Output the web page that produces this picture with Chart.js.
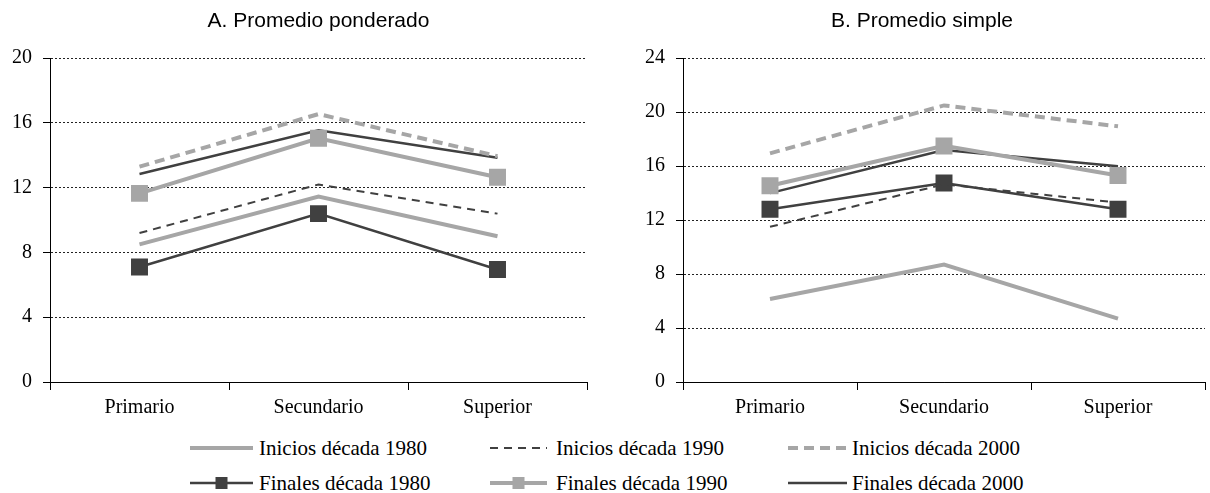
<!DOCTYPE html>
<html>
<head>
<meta charset="utf-8">
<script src="https://cdn.jsdelivr.net/npm/chart.js@4"></script>
<style>
html, body { margin: 0; padding: 0; background: #fff; overflow: hidden; width: 1210px; height: 493px; }
#panelA { position: absolute; left: 0; top: 0; width: 605px; height: 422px; }
#panelB { position: absolute; left: 605px; top: 0; width: 612px; height: 422px; }
.leg { position: absolute; font: 21px "Liberation Serif", serif; color: #000; white-space: nowrap; line-height: 24px; }
.legSample { position: absolute; }
</style>
</head>
<body>
<div id="panelA"><canvas id="chartA"></canvas></div>
<div id="panelB"><canvas id="chartB"></canvas></div>
<div id="legend"></div>
<script>
var categories = ['Primario', 'Secundario', 'Superior'];
var seriesNames = ['Inicios década 1980', 'Inicios década 1990', 'Inicios década 2000',
                   'Finales década 1980', 'Finales década 1990', 'Finales década 2000'];

// A. Promedio ponderado
var ponderadoIni1980 = [8.5, 11.45, 9.0];
var ponderadoIni1990 = [9.2, 12.2, 10.4];
var ponderadoIni2000 = [13.3, 16.55, 13.95];
var ponderadoFin1980 = [7.1, 10.4, 6.95];
var ponderadoFin1990 = [11.65, 15.05, 12.65];
var ponderadoFin2000 = [12.85, 15.55, 13.85];

// B. Promedio simple
var simpleIni1980 = [6.15, 8.7, 4.7];
var simpleIni1990 = [11.5, 14.65, 13.3];
var simpleIni2000 = [16.95, 20.5, 18.95];
var simpleFin1980 = [12.8, 14.75, 12.8];
var simpleFin1990 = [14.55, 17.5, 15.3];
var simpleFin2000 = [14.0, 17.2, 16.0];

var yTicksA = [0, 4, 8, 12, 16, 20];
var yTicksB = [0, 4, 8, 12, 16, 20, 24];

// estilos de cada serie
var DARK = '#404040';
var LIGHT = '#a6a6a6';
var seriesColors = [LIGHT, DARK, LIGHT, DARK, LIGHT, DARK];
var seriesWidths = [4, 2, 4, 2.5, 4, 2.5];
var seriesDash = [[], [8, 6], [10, 6], [], [], []];
var seriesMarker = [false, false, false, true, true, false];

function BuildPanel(elementId, titleText, values, yTicks, padLeft, yWidth, padRight, titleFull) {
    var ctx = document.getElementById(elementId);
    var datasets = [];
    for (var i = 0; i < values.length; i++) {
        datasets.push({
            label: seriesNames[i],
            data: values[i],
            borderColor: seriesColors[i],
            backgroundColor: seriesColors[i],
            borderWidth: seriesWidths[i],
            borderDash: seriesDash[i],
            borderCapStyle: 'butt',
            tension: 0,
            pointStyle: 'rect',
            pointRadius: seriesMarker[i] ? 12 : 0,
            pointHoverRadius: seriesMarker[i] ? 12 : 0,
            pointBorderWidth: 0,
            pointBackgroundColor: seriesColors[i]
        });
    }
    return new Chart(ctx, {
        type: 'line',
        data: { labels: categories, datasets: datasets },
        options: {
            responsive: true,
            maintainAspectRatio: false,
            animation: false,
            layout: { padding: { left: padLeft, right: padRight, top: 0, bottom: 0 } },
            plugins: {
                legend: { display: false },
                tooltip: { enabled: false },
                title: {
                    display: true,
                    fullSize: titleFull,
                    text: titleText,
                    color: '#000',
                    font: { family: 'Liberation Sans', size: 21, weight: 'normal' },
                    padding: { top: 9, bottom: 24 }
                }
            },
            scales: {
                x: {
                    offset: true,
                    grid: { drawOnChartArea: false, offset: true, tickLength: 8, color: '#000' },
                    border: { color: '#000', width: 1 },
                    ticks: { color: '#000', padding: 6, maxRotation: 0, font: { family: 'Liberation Serif', size: 20 } },
                    afterFit: function (s) { s.height = 40; }
                },
                y: {
                    min: yTicks[0],
                    max: yTicks[yTicks.length - 1],
                    afterBuildTicks: function (s) { s.ticks = yTicks.map(function (v) { return { value: v }; }); },
                    grid: { color: '#222', lineWidth: 1, tickLength: 7, tickColor: '#000' },
                    border: { color: '#000', width: 1, dash: [2, 2] },
                    ticks: { color: '#000', padding: 11, font: { family: 'Liberation Serif', size: 20 } },
                    afterFit: function (s) { s.width = yWidth; }
                }
            }
        }
    });
}

BuildPanel('chartA', 'A. Promedio ponderado',
    [ponderadoIni1980, ponderadoIni1990, ponderadoIni2000, ponderadoFin1980, ponderadoFin1990, ponderadoFin2000],
    yTicksA, 0, 50, 18, false);
BuildPanel('chartB', 'B. Promedio simple',
    [simpleIni1980, simpleIni1990, simpleIni2000, simpleFin1980, simpleFin1990, simpleFin2000],
    yTicksB, 22, 56, 0, true);

// leyenda común debajo de los dos paneles
var legendSampleX = [190, 490, 788];
var legendSampleW = [63, 57, 59];
var legendTextX = [259, 556, 852];
var legendRowY = [448, 483];
var legend = document.getElementById('legend');
var svgNS = 'http://www.w3.org/2000/svg';
for (var k = 0; k < seriesNames.length; k++) {
    var col = k % 3, row = Math.floor(k / 3);
    var cy = legendRowY[row];
    var w = legendSampleW[col];
    var svg = document.createElementNS(svgNS, 'svg');
    svg.setAttribute('width', w);
    svg.setAttribute('height', 16);
    svg.setAttribute('class', 'legSample');
    svg.style.left = legendSampleX[col] + 'px';
    svg.style.top = (cy - 8) + 'px';
    var ln = document.createElementNS(svgNS, 'line');
    ln.setAttribute('x1', 0); ln.setAttribute('x2', w);
    ln.setAttribute('y1', 8); ln.setAttribute('y2', 8);
    ln.setAttribute('stroke', seriesColors[k]);
    ln.setAttribute('stroke-width', seriesWidths[k]);
    if (seriesDash[k].length) ln.setAttribute('stroke-dasharray', seriesDash[k].join(' '));
    svg.appendChild(ln);
    if (seriesMarker[k]) {
        var r = document.createElementNS(svgNS, 'rect');
        r.setAttribute('x', w / 2 - 6); r.setAttribute('y', 2);
        r.setAttribute('width', 12); r.setAttribute('height', 12);
        r.setAttribute('fill', seriesColors[k]);
        svg.appendChild(r);
    }
    legend.appendChild(svg);
    var t = document.createElement('div');
    t.className = 'leg';
    t.style.left = legendTextX[col] + 'px';
    t.style.top = (cy - 12) + 'px';
    t.textContent = seriesNames[k];
    legend.appendChild(t);
}
</script>
</body>
</html>
